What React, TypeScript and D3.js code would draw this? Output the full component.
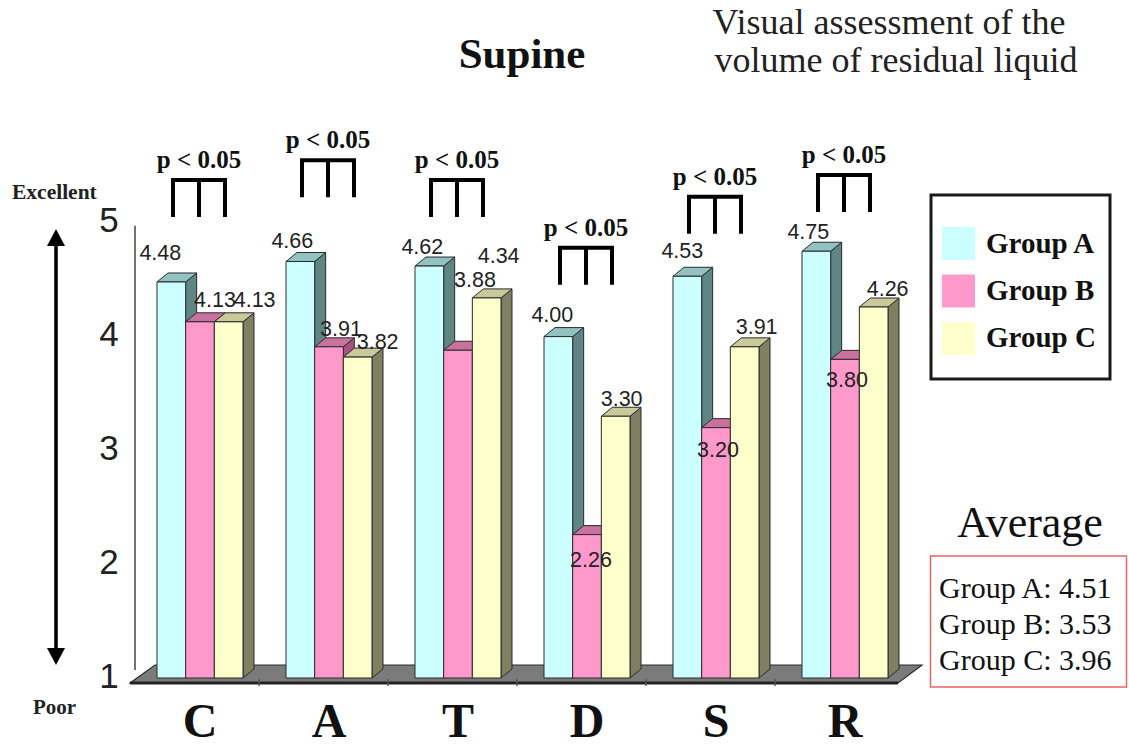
import React from "react";
import * as d3 from "d3";

// ---------- data ----------
const categories = ["C", "A", "T", "D", "S", "R"];
const seriesNames = ["Group A", "Group B", "Group C"];
const groupA = [4.48, 4.66, 4.62, 4.0, 4.53, 4.75];
const groupB = [4.13, 3.91, 3.88, 2.26, 3.2, 3.8];
const groupC = [4.13, 3.82, 4.34, 3.3, 3.91, 4.26];
const averages = [4.51, 3.53, 3.96];
const yTicks = [1, 2, 3, 4, 5];
const sigText = ["p < 0.05", "p < 0.05", "p < 0.05", "p < 0.05", "p < 0.05", "p < 0.05"];

// ---------- layout (not data) ----------
const W = 1129;
const H = 749;
const seriesValues = [groupA, groupB, groupC];
const fronts = ["#ccffff", "#ff99cc", "#ffffcc"];
const sides = ["#5f8585", "#a8517e", "#7f7f62"];
const tops = ["#93c2c2", "#c9729f", "#c9c99a"];
// label nudges [dx, dy] from bar front-top centre, per series per category
const labelNudges = [
  [[-11, -29], [-8, -20], [-7, -19], [-6, -22], [-5, -25], [-8, -19]],
  [[15, -22], [12, -18], [17, -70], [4, 25], [2, 22], [2, 21]],
  [[26, -22], [20, -15], [12, -42], [6, -17], [12, -20], [14, -18]],
];
// bracket top level in value units
const bracketLevels = [5.376, 5.55, 5.376, 4.78, 5.23, 5.42];
const DX = 11;
const DY = -9;

export default function App() {
  const x = d3.scaleBand<string>().domain(categories).range([130, 904]);
  const inner = d3.scaleBand<string>().domain(seriesNames).range([0, 86]);
  const y = d3.scaleLinear().domain([1, 5]).range([678, 222.8]);
  const bw = inner.bandwidth();
  const base = (c: string) => (x(c) as number) + 27;
  const y0 = y(1);

  const floorFrontY = y0 + 5;
  const fl = x.range()[0];
  const fr = x.range()[1] - 6;
  const floorPts = [
    [fl, floorFrontY],
    [fl + 25, floorFrontY - 18],
    [fr + 24, floorFrontY - 18],
    [fr, floorFrontY],
  ];

  const serif = "'Liberation Serif', 'Times New Roman', serif";
  const sans = "'Liberation Sans', Arial, sans-serif";

  const bars: React.ReactNode[] = [];
  const labels: React.ReactNode[] = [];
  categories.forEach((c, ci) => {
    seriesNames.forEach((s, si) => {
      const v = seriesValues[si][ci];
      const x0 = base(c) + (inner(s) as number);
      const yt = y(v);
      const x1 = x0 + bw;
      const side = `${x1},${y0} ${x1 + DX},${y0 + DY} ${x1 + DX},${yt + DY} ${x1},${yt}`;
      const top = `${x0},${yt} ${x0 + DX},${yt + DY} ${x1 + DX},${yt + DY} ${x1},${yt}`;
      bars.push(
        <g key={`b-${c}-${s}`} stroke="#2a2a2a" strokeWidth={1} strokeLinejoin="round">
          <polygon points={side} fill={sides[si]} />
          <polygon points={top} fill={tops[si]} />
          <rect x={x0} y={yt} width={bw} height={y0 - yt} fill={fronts[si]} />
        </g>
      );
      const [ndx, ndy] = labelNudges[si][ci];
      labels.push(
        <text
          key={`l-${c}-${s}`}
          x={x0 + bw / 2 + ndx}
          y={yt + ndy}
          textAnchor="middle"
          dominantBaseline="central"
          fontFamily={sans}
          fontSize={21.5}
          fill="#222"
        >
          {v.toFixed(2)}
        </text>
      );
    });
  });

  return (
    <svg
      width={W}
      height={H}
      viewBox={`0 0 ${W} ${H}`}
      style={{ position: "absolute", left: 0, top: 0, background: "#fff" }}
    >
      <rect x={0} y={0} width={W} height={H} fill="#fff" />
      {/* titles */}
      <text x={522} y={68} textAnchor="middle" fontFamily={serif} fontWeight="bold" fontSize={43} fill="#111">
        Supine
      </text>
      <text x={889} y={34} textAnchor="middle" fontFamily={serif} fontSize={36} fill="#222">
        Visual assessment of the
      </text>
      <text x={896} y={72} textAnchor="middle" fontFamily={serif} fontSize={36} fill="#222">
        volume of residual liquid
      </text>

      {/* Excellent / Poor arrow */}
      <text x={12} y={199} fontFamily={serif} fontWeight="bold" fontSize={21.5} fill="#222">
        Excellent
      </text>
      <text x={33} y={714} fontFamily={serif} fontWeight="bold" fontSize={21} fill="#222">
        Poor
      </text>
      <line x1={56} x2={56} y1={240} y2={652} stroke="#000" strokeWidth={3.5} />
      <polygon points="56,229 47,246 65,246" fill="#000" />
      <polygon points="56,665 47,648 65,648" fill="#000" />

      {/* y ticks */}
      {yTicks.map((t) => (
        <text
          key={`t-${t}`}
          x={109}
          y={y(t) - 3}
          textAnchor="middle"
          dominantBaseline="central"
          fontFamily={sans}
          fontSize={35}
          fill="#222"
        >
          {t}
        </text>
      ))}
      <line x1={135} x2={135} y1={y(5) + 3} y2={y0 - 8} stroke="#444" strokeWidth={1.5} />

      {/* floor */}
      <polygon points={floorPts.map((p) => p.join(",")).join(" ")} fill="#7b7b7b" stroke="#2a2a2a" strokeWidth={1.2} />
      <line x1={fl} x2={fr} y1={floorFrontY} y2={floorFrontY} stroke="#222" strokeWidth={3} />
      {categories.slice(1).map((c) => (
        <line key={`ft-${c}`} x1={x(c)} x2={x(c)} y1={floorFrontY - 4} y2={floorFrontY + 3} stroke="#555" strokeWidth={1.5} />
      ))}

      {bars}
      {labels}

      {/* significance brackets */}
      {categories.map((c, ci) => {
        const bx0 = base(c) + 16;
        const bx1 = base(c) + 68;
        const bm = (bx0 + bx1) / 2;
        const by = y(bracketLevels[ci]);
        const leg = 37;
        return (
          <g key={`br-${c}`}>
            <path
              d={`M${bx0},${by + leg} V${by} H${bx1} V${by + leg} M${bm},${by} V${by + leg}`}
              fill="none"
              stroke="#000"
              strokeWidth={4}
            />
            <text x={bm} y={by - 12} textAnchor="middle" fontFamily={serif} fontWeight="bold" fontSize={25} fill="#111">
              {sigText[ci]}
            </text>
          </g>
        );
      })}

      {/* category labels */}
      {categories.map((c) => (
        <text
          key={`c-${c}`}
          x={base(c) + 43}
          y={737}
          textAnchor="middle"
          fontFamily={serif}
          fontWeight="bold"
          fontSize={48}
          fill="#111"
        >
          {c}
        </text>
      ))}

      {/* legend */}
      <rect x={931} y={195} width={179} height={184} fill="#fff" stroke="#1a1a1a" strokeWidth={3} />
      {seriesNames.map((s, i) => (
        <g key={`lg-${s}`}>
          <rect x={942} y={227 + i * 47.5} width={33} height={33} fill={fronts[i]} />
          <text x={986} y={253 + i * 47} fontFamily={serif} fontWeight="bold" fontSize={29} fill="#111">
            {s}
          </text>
        </g>
      ))}

      {/* average box */}
      <text x={1030} y={537} textAnchor="middle" fontFamily={serif} fontSize={44} fill="#111">
        Average
      </text>
      <rect x={930.5} y={556} width={196} height={131} fill="#fff" stroke="#e8645f" strokeWidth={1.5} />
      {seriesNames.map((s, i) => (
        <text key={`av-${s}`} x={939} y={598 + i * 36} fontFamily={serif} fontSize={30} fill="#111">
          {`${s}: ${averages[i].toFixed(2)}`}
        </text>
      ))}
    </svg>
  );
}
